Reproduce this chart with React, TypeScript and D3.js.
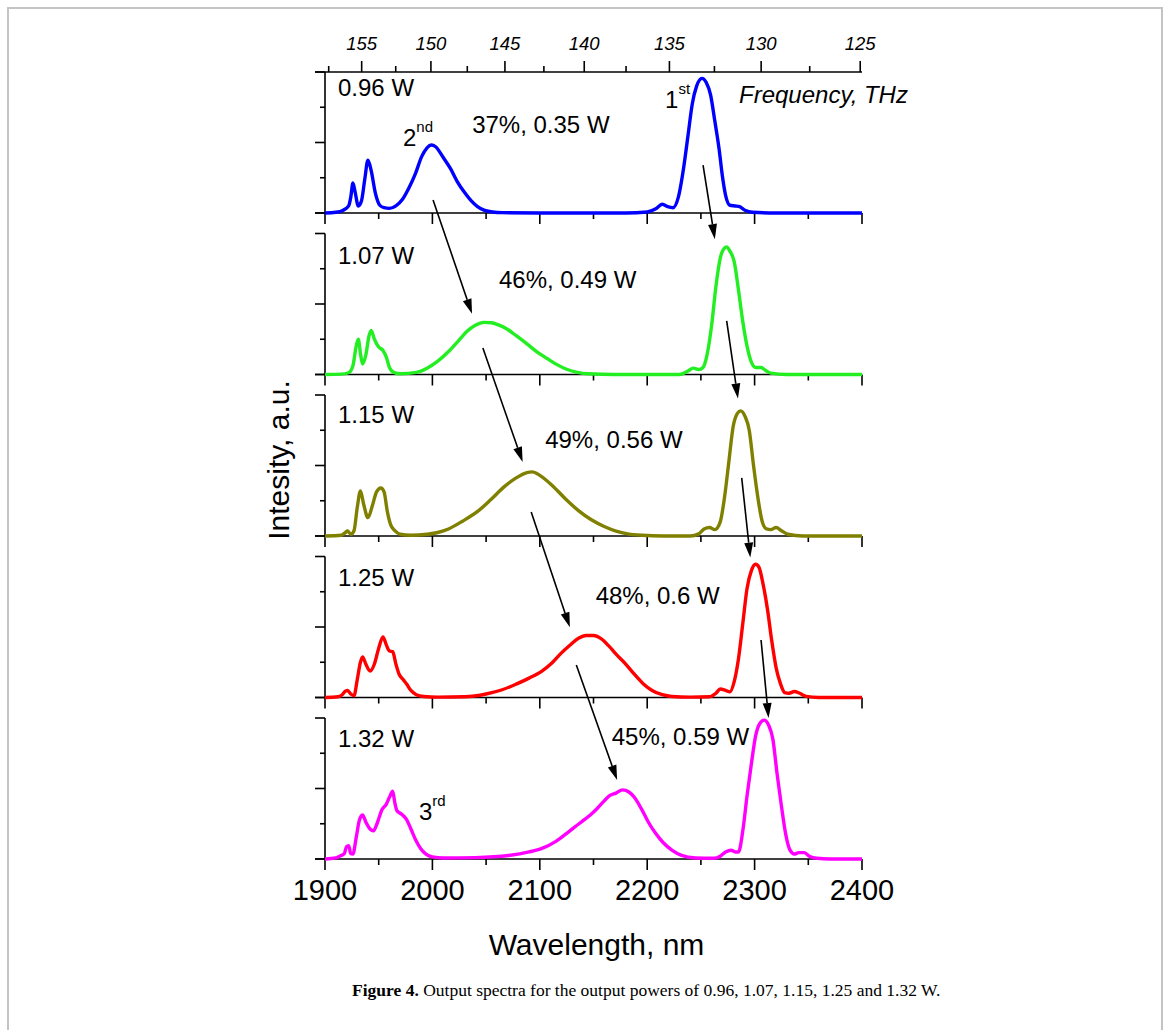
import React from 'react';
import * as d3 from 'd3';

// ---------- data ----------
const C_NM_THZ = 299792.458;
const wavelengthTicks = [1900, 2000, 2100, 2200, 2300, 2400];
const wavelengthMinorTicks = [1950, 2050, 2150, 2250, 2350];
const frequencyTicks = [155, 150, 145, 140, 135, 130, 125];
const frequencyMinorTicks = [157.5, 152.5, 147.5, 142.5, 137.5, 132.5, 127.5];
const intensityMajorTicks = [0, 2, 4];
const intensityMinorTicks = [1, 3];
const powerLabels = ['0.96 W', '1.07 W', '1.15 W', '1.25 W', '1.32 W'];
const efficiencyLabels = ['37%, 0.35 W', '46%, 0.49 W', '49%, 0.56 W', '48%, 0.6 W', '45%, 0.59 W'];
const seriesColors = ['#0000ff', '#22ee22', '#808000', '#ff0000', '#ff00ff'];

const spectrum096: [number, number][] = [
  [1900, 0], [1910, 0.02], [1917, 0.08], [1922, 0.2], [1924, 0.45], [1926, 0.85], [1928, 0.6], [1931, 0.2],
  [1934, 0.35], [1937, 0.95], [1940, 1.5], [1943, 1.2], [1947, 0.55], [1951, 0.22], [1955, 0.15], [1960, 0.13],
  [1966, 0.2], [1972, 0.38], [1978, 0.7], [1984, 1.1], [1990, 1.6], [1995, 1.85], [1999, 1.93], [2003, 1.88],
  [2010, 1.58], [2017, 1.25], [2023, 0.9], [2030, 0.58], [2036, 0.35], [2042, 0.18], [2048, 0.08], [2056, 0.03],
  [2065, 0.01], [2100, 0], [2180, 0], [2200, 0.03], [2208, 0.12], [2214, 0.25], [2219, 0.18], [2224, 0.15],
  [2229, 0.45], [2234, 1.3], [2238, 2.2], [2242, 3.1], [2246, 3.6], [2251, 3.82], [2255, 3.7], [2259, 3.35],
  [2263, 2.6], [2267, 1.8], [2270, 1.05], [2273, 0.5], [2277, 0.22], [2282, 0.2], [2286, 0.18], [2291, 0.08],
  [2298, 0.02], [2320, 0], [2400, 0],
];
const spectrum107: [number, number][] = [
  [1900, 0], [1915, 0.01], [1922, 0.05], [1926, 0.25], [1929, 0.8], [1931, 1.0], [1933, 0.6], [1935, 0.3],
  [1938, 0.55], [1941, 1.1], [1943, 1.25], [1946, 1.0], [1950, 0.78], [1954, 0.68], [1957, 0.5], [1960, 0.2],
  [1964, 0.06], [1970, 0.02], [1985, 0.06], [1995, 0.18], [2005, 0.38], [2016, 0.68], [2025, 0.98], [2032, 1.22],
  [2040, 1.4], [2048, 1.48], [2055, 1.47], [2062, 1.4], [2069, 1.3], [2078, 1.1], [2088, 0.87], [2097, 0.65],
  [2107, 0.45], [2116, 0.28], [2125, 0.15], [2135, 0.06], [2145, 0.02], [2170, 0], [2230, 0], [2238, 0.1],
  [2243, 0.18], [2248, 0.14], [2252, 0.2], [2256, 0.6], [2260, 1.4], [2264, 2.5], [2268, 3.3], [2271, 3.55],
  [2274, 3.62], [2277, 3.5], [2281, 3.2], [2285, 2.4], [2289, 1.5], [2293, 0.8], [2297, 0.35], [2301, 0.2],
  [2306, 0.2], [2310, 0.12], [2315, 0.04], [2330, 0], [2400, 0],
];
const spectrum115: [number, number][] = [
  [1900, 0], [1915, 0.02], [1919, 0.1], [1921, 0.14], [1924, 0.05], [1927, 0.15], [1930, 0.8], [1933, 1.28],
  [1936, 0.9], [1940, 0.52], [1944, 0.85], [1948, 1.25], [1952, 1.36], [1955, 1.25], [1958, 0.7], [1961, 0.33],
  [1965, 0.15], [1970, 0.05], [1980, 0.02], [1995, 0.05], [2005, 0.1], [2015, 0.2], [2028, 0.42], [2043, 0.72],
  [2055, 1.05], [2067, 1.4], [2078, 1.65], [2088, 1.8], [2093, 1.82], [2100, 1.72], [2112, 1.42], [2124, 1.05],
  [2136, 0.72], [2148, 0.46], [2160, 0.27], [2171, 0.14], [2182, 0.06], [2195, 0.02], [2215, 0], [2240, 0],
  [2248, 0.06], [2253, 0.2], [2258, 0.24], [2263, 0.18], [2268, 0.4], [2272, 1.1], [2276, 2.1], [2280, 3.1],
  [2284, 3.48], [2287, 3.55], [2291, 3.4], [2295, 3.0], [2299, 2.0], [2303, 1.1], [2307, 0.42], [2311, 0.2],
  [2315, 0.18], [2320, 0.24], [2325, 0.15], [2331, 0.05], [2345, 0], [2400, 0],
];
const spectrum125: [number, number][] = [
  [1900, 0], [1912, 0.02], [1916, 0.08], [1919, 0.18], [1921, 0.2], [1924, 0.1], [1927, 0.05], [1930, 0.5],
  [1933, 1.0], [1935, 1.15], [1938, 0.95], [1942, 0.75], [1946, 0.95], [1950, 1.4], [1954, 1.72], [1957, 1.5],
  [1960, 1.32], [1963, 1.3], [1966, 0.95], [1969, 0.66], [1973, 0.5], [1976, 0.38], [1980, 0.2], [1985, 0.08],
  [1992, 0.03], [2005, 0.01], [2030, 0.02], [2050, 0.1], [2065, 0.22], [2078, 0.38], [2090, 0.55], [2102, 0.75],
  [2111, 0.97], [2119, 1.23], [2128, 1.48], [2136, 1.68], [2143, 1.76], [2150, 1.76], [2157, 1.67], [2164, 1.47],
  [2171, 1.23], [2180, 0.95], [2188, 0.66], [2196, 0.4], [2205, 0.19], [2214, 0.08], [2223, 0.03], [2240, 0.01],
  [2258, 0.02], [2264, 0.12], [2268, 0.24], [2273, 0.2], [2277, 0.16], [2281, 0.45], [2285, 1.1], [2289, 2.1],
  [2293, 3.1], [2297, 3.6], [2301, 3.78], [2304, 3.7], [2308, 3.2], [2312, 2.5], [2316, 1.6], [2320, 0.85],
  [2324, 0.4], [2328, 0.14], [2332, 0.12], [2337, 0.17], [2342, 0.12], [2348, 0.03], [2360, 0], [2400, 0],
];
const spectrum132: [number, number][] = [
  [1900, 0], [1910, 0.03], [1915, 0.1], [1918, 0.15], [1920, 0.35], [1922, 0.38], [1924, 0.15], [1926, 0.14],
  [1929, 0.6], [1932, 1.1], [1935, 1.25], [1938, 1.05], [1942, 0.85], [1945, 0.8], [1949, 1.05], [1953, 1.4],
  [1957, 1.55], [1960, 1.75], [1963, 1.92], [1965, 1.6], [1967, 1.37], [1971, 1.28], [1976, 1.12], [1980, 0.85],
  [1984, 0.57], [1989, 0.3], [1994, 0.14], [2000, 0.06], [2010, 0.03], [2040, 0.04], [2071, 0.1], [2090, 0.2],
  [2102, 0.3], [2115, 0.5], [2126, 0.75], [2133, 0.92], [2140, 1.08], [2147, 1.25], [2153, 1.42], [2160, 1.65],
  [2165, 1.8], [2171, 1.87], [2177, 1.96], [2183, 1.9], [2188, 1.75], [2195, 1.4], [2201, 1.05], [2208, 0.72],
  [2215, 0.46], [2223, 0.25], [2232, 0.1], [2245, 0.03], [2262, 0.02], [2268, 0.08], [2273, 0.2], [2278, 0.25],
  [2282, 0.2], [2285, 0.2], [2289, 0.8], [2293, 1.8], [2297, 2.7], [2301, 3.5], [2305, 3.85], [2309, 3.94],
  [2313, 3.8], [2317, 3.4], [2321, 2.4], [2325, 1.5], [2329, 0.7], [2333, 0.25], [2337, 0.14], [2341, 0.18],
  [2346, 0.18], [2351, 0.08], [2358, 0.02], [2370, 0], [2400, 0],
];
const spectra = [spectrum096, spectrum107, spectrum115, spectrum125, spectrum132];

// annotation anchors in data units: [wavelength, panel index, intensity]
const efficiencyAnchors: [number, number, number][] = [
  [2037, 0, 2.27], [2062, 1, 2.45], [2105, 2, 2.5], [2152, 3, 2.65], [2167, 4, 3.23],
];
const orderLabels = [
  { base: '2', sup: 'nd', at: [1972.6, 0, 1.9] as [number, number, number] },
  { base: '1', sup: 'st', at: [2216.6, 0, 2.98] as [number, number, number] },
  { base: '3', sup: 'rd', at: [1987.5, 4, 1.1] as [number, number, number] },
];
const frequencyTitleAnchor: [number, number, number] = [2285.5, 0, 3.12];
const arrows: { from: [number, number, number]; to: [number, number, number] }[] = [
  { from: [2000.6, 0, 0.37], to: [2036.9, 1, 1.72] },
  { from: [2252, 0, 1.36], to: [2263, 1, 3.84] },
  { from: [2047, 1, 0.75], to: [2084, 2, 2.1] },
  { from: [2274, 1, 1.52], to: [2284.5, 2, 3.9] },
  { from: [2092, 2, 0.68], to: [2128, 3, 1.99] },
  { from: [2288, 2, 1.65], to: [2296, 3, 3.97] },
  { from: [2134, 3, 0.92], to: [2172, 4, 2.24] },
  { from: [2306, 3, 1.63], to: [2313, 4, 4.0] },
];

// ---------- layout ----------
const W = 1170;
const H = 1030;
const plotLeft = 325;
const plotRight = 862;
const panelTop0 = 72;
const panelStep = 161.5;
const panelHeight = 141;
const sans = '"Liberation Sans", Arial, Helvetica, sans-serif';
const serif = '"Liberation Serif", "Times New Roman", serif';

const x = d3.scaleLinear().domain([1900, 2400]).range([plotLeft, plotRight]);
const panelY = (i: number) =>
  d3.scaleLinear().domain([0, 4]).range([panelTop0 + i * panelStep + panelHeight, panelTop0 + i * panelStep]);
const yScales = powerLabels.map((_, i) => panelY(i));
const pt = (a: [number, number, number]) => [x(a[0]), yScales[a[1]](a[2])];
const fx = (f: number) => x(C_NM_THZ / f);

const line = d3.line<[number, number]>().curve(d3.curveMonotoneX);

export default function App() {
  const labelOffsets = [24, 30, 28, 29, 29];
  return (
    <svg
      width={W}
      height={H}
      viewBox={`0 0 ${W} ${H}`}
      style={{ position: 'absolute', left: 0, top: 0, background: '#fff' }}
    >
      <rect x={0} y={0} width={W} height={H} fill="#fff" />
      <rect x={8} y={8} width={1154} height={1100} fill="none" stroke="#c4c4c4" strokeWidth={2} />

      {/* top frequency axis */}
      <line x1={315} x2={plotRight} y1={panelTop0} y2={panelTop0} stroke="#000" strokeWidth={1.6} />
      {frequencyTicks.map((f) => (
        <g key={'f' + f}>
          <line x1={fx(f)} x2={fx(f)} y1={panelTop0} y2={panelTop0 - 11} stroke="#000" strokeWidth={1.6} />
          <text x={fx(f)} y={panelTop0 - 22} textAnchor="middle" fontFamily={sans} fontStyle="italic" fontSize={18.5}>
            {f}
          </text>
        </g>
      ))}
      {frequencyMinorTicks.map((f) => (
        <line key={'fm' + f} x1={fx(f)} x2={fx(f)} y1={panelTop0} y2={panelTop0 - 6} stroke="#000" strokeWidth={1.6} />
      ))}

      {yScales.map((ys, i) => {
        const top = ys(4);
        const base = ys(0);
        return (
          <g key={'p' + i}>
            <line x1={plotLeft} x2={plotLeft} y1={top} y2={base} stroke="#000" strokeWidth={1.6} />
            {intensityMajorTicks.map((t) => (
              <line key={'ym' + t} x1={plotLeft - 10} x2={plotLeft} y1={ys(t)} y2={ys(t)} stroke="#000" strokeWidth={1.6} />
            ))}
            {intensityMinorTicks.map((t) => (
              <line key={'yn' + t} x1={plotLeft - 5} x2={plotLeft} y1={ys(t)} y2={ys(t)} stroke="#000" strokeWidth={1.6} />
            ))}
            <line x1={plotLeft - 10} x2={plotRight} y1={base} y2={base} stroke="#000" strokeWidth={1.6} />
            {wavelengthTicks.map((t) => (
              <line key={'xm' + t} x1={x(t)} x2={x(t)} y1={base} y2={base + 11} stroke="#000" strokeWidth={1.6} />
            ))}
            {wavelengthMinorTicks.map((t) => (
              <line key={'xn' + t} x1={x(t)} x2={x(t)} y1={base} y2={base + 6} stroke="#000" strokeWidth={1.6} />
            ))}
            <path
              d={line(spectra[i].map((d) => [x(d[0]), ys(d[1])]) as [number, number][]) || ''}
              fill="none"
              stroke={seriesColors[i]}
              strokeWidth={3.4}
              strokeLinejoin="round"
            />
            <text x={338} y={top + labelOffsets[i]} fontFamily={sans} fontSize={24}>
              {powerLabels[i]}
            </text>
          </g>
        );
      })}

      {wavelengthTicks.map((t) => (
        <text key={'xl' + t} x={x(t)} y={yScales[4](0) + 41} textAnchor="middle" fontFamily={sans} fontSize={29}>
          {t}
        </text>
      ))}
      <text x={(plotLeft + plotRight) / 2 + 3} y={yScales[4](0) + 96} textAnchor="middle" fontFamily={sans} fontSize={30}>
        Wavelength, nm
      </text>
      <text
        transform={`translate(289, 460) rotate(-90)`}
        textAnchor="middle"
        fontFamily={sans}
        fontSize={30}
      >
        Intesity, a.u.
      </text>

      {efficiencyAnchors.map((a, i) => {
        const [px, py] = pt(a);
        return (
          <text key={'e' + i} x={px} y={py} fontFamily={sans} fontSize={24}>
            {efficiencyLabels[i]}
          </text>
        );
      })}
      {orderLabels.map((o) => {
        const [px, py] = pt(o.at);
        return (
          <text key={o.base} x={px} y={py} fontFamily={sans} fontSize={24}>
            {o.base}
            <tspan fontSize={15} dy={-14}>
              {o.sup}
            </tspan>
          </text>
        );
      })}
      {(() => {
        const [px, py] = pt(frequencyTitleAnchor);
        return (
          <text x={px} y={py} fontFamily={sans} fontStyle="italic" fontSize={24}>
            Frequency, THz
          </text>
        );
      })()}

      {arrows.map((a, i) => {
        const [x1, y1] = pt(a.from);
        const [x2, y2] = pt(a.to);
        const ang = Math.atan2(y2 - y1, x2 - x1);
        const L = 15;
        const Wd = 4.5;
        const bx = x2 - L * Math.cos(ang);
        const by = y2 - L * Math.sin(ang);
        const nx = -Math.sin(ang);
        const ny = Math.cos(ang);
        return (
          <g key={'a' + i}>
            <line x1={x1} y1={y1} x2={bx} y2={by} stroke="#000" strokeWidth={1.6} />
            <polygon points={`${x2},${y2} ${bx + nx * Wd},${by + ny * Wd} ${bx - nx * Wd},${by - ny * Wd}`} fill="#000" />
          </g>
        );
      })}

      <text x={352} y={996} fontFamily={serif} fontSize={17.5}>
        <tspan fontWeight="bold">Figure 4.</tspan> Output spectra for the output powers of 0.96, 1.07, 1.15, 1.25 and 1.32 W.
      </text>
    </svg>
  );
}
